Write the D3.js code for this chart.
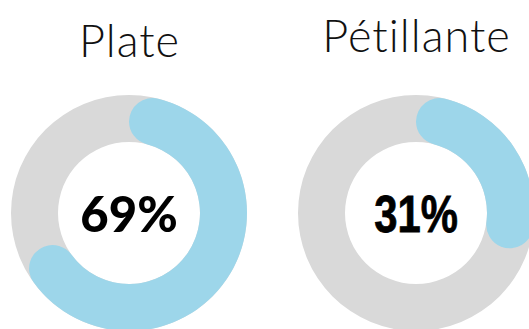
<!DOCTYPE html>
<html><head><meta charset="utf-8">
<script src="https://cdn.jsdelivr.net/npm/d3@7"></script>
<style>html,body{margin:0;padding:0;background:#fff;overflow:hidden}</style>
</head><body>
<script>
const categories = ["Plate", "Pétillante"];
const values = [69, 31];
const valueLabels = ["69%", "31%"];

const W = 529, H = 329;
const svg = d3.select("body").append("svg").attr("width", W).attr("height", H);

const x = d3.scalePoint().domain(categories).range([129, 416]);
const angle = d3.scaleLinear().domain([0, 100]).range([0, 2 * Math.PI]);
const outerR = 118, innerR = 71;
const cy = 213;

const bg = d3.arc().innerRadius(innerR).outerRadius(outerR).startAngle(0).endAngle(2 * Math.PI);
const fg = d3.arc().innerRadius(innerR).outerRadius(outerR).cornerRadius((outerR - innerR) / 2).startAngle(0);

const labelFonts = [
  {family: "Lato", weight: 900, size: 49, sx: 1},
  {family: "Liberation Sans", weight: 700, size: 51, sx: 0.82}
];

categories.forEach((c, i) => {
  const g = svg.append("g").attr("transform", `translate(${x(c)},${cy})`);
  g.append("path").attr("d", bg()).attr("fill", "#d9d9d9");
  g.append("path").attr("d", fg.endAngle(angle(values[i]))()).attr("fill", "#9dd6ea");
  g.append("g").attr("transform", `scale(${labelFonts[i].sx},1)`)
    .append("text").attr("text-anchor", "middle").attr("y", 19)
    .attr("font-family", labelFonts[i].family).attr("font-weight", labelFonts[i].weight)
    .attr("font-size", labelFonts[i].size).attr("fill", "#000")
    .attr("stroke", i === 1 ? "#000" : "none").attr("stroke-width", 0.8)
    .text(valueLabels[i]);
  svg.append("text").attr("x", x(c) + 0.5).attr("y", i === 0 ? 57 : 52).attr("text-anchor", "middle")
    .attr("font-family", "Lato").attr("font-weight", 300).attr("font-size", 45)
    .attr("letter-spacing", 1).attr("fill", "#111").text(c);
});
</script>
</body></html>
